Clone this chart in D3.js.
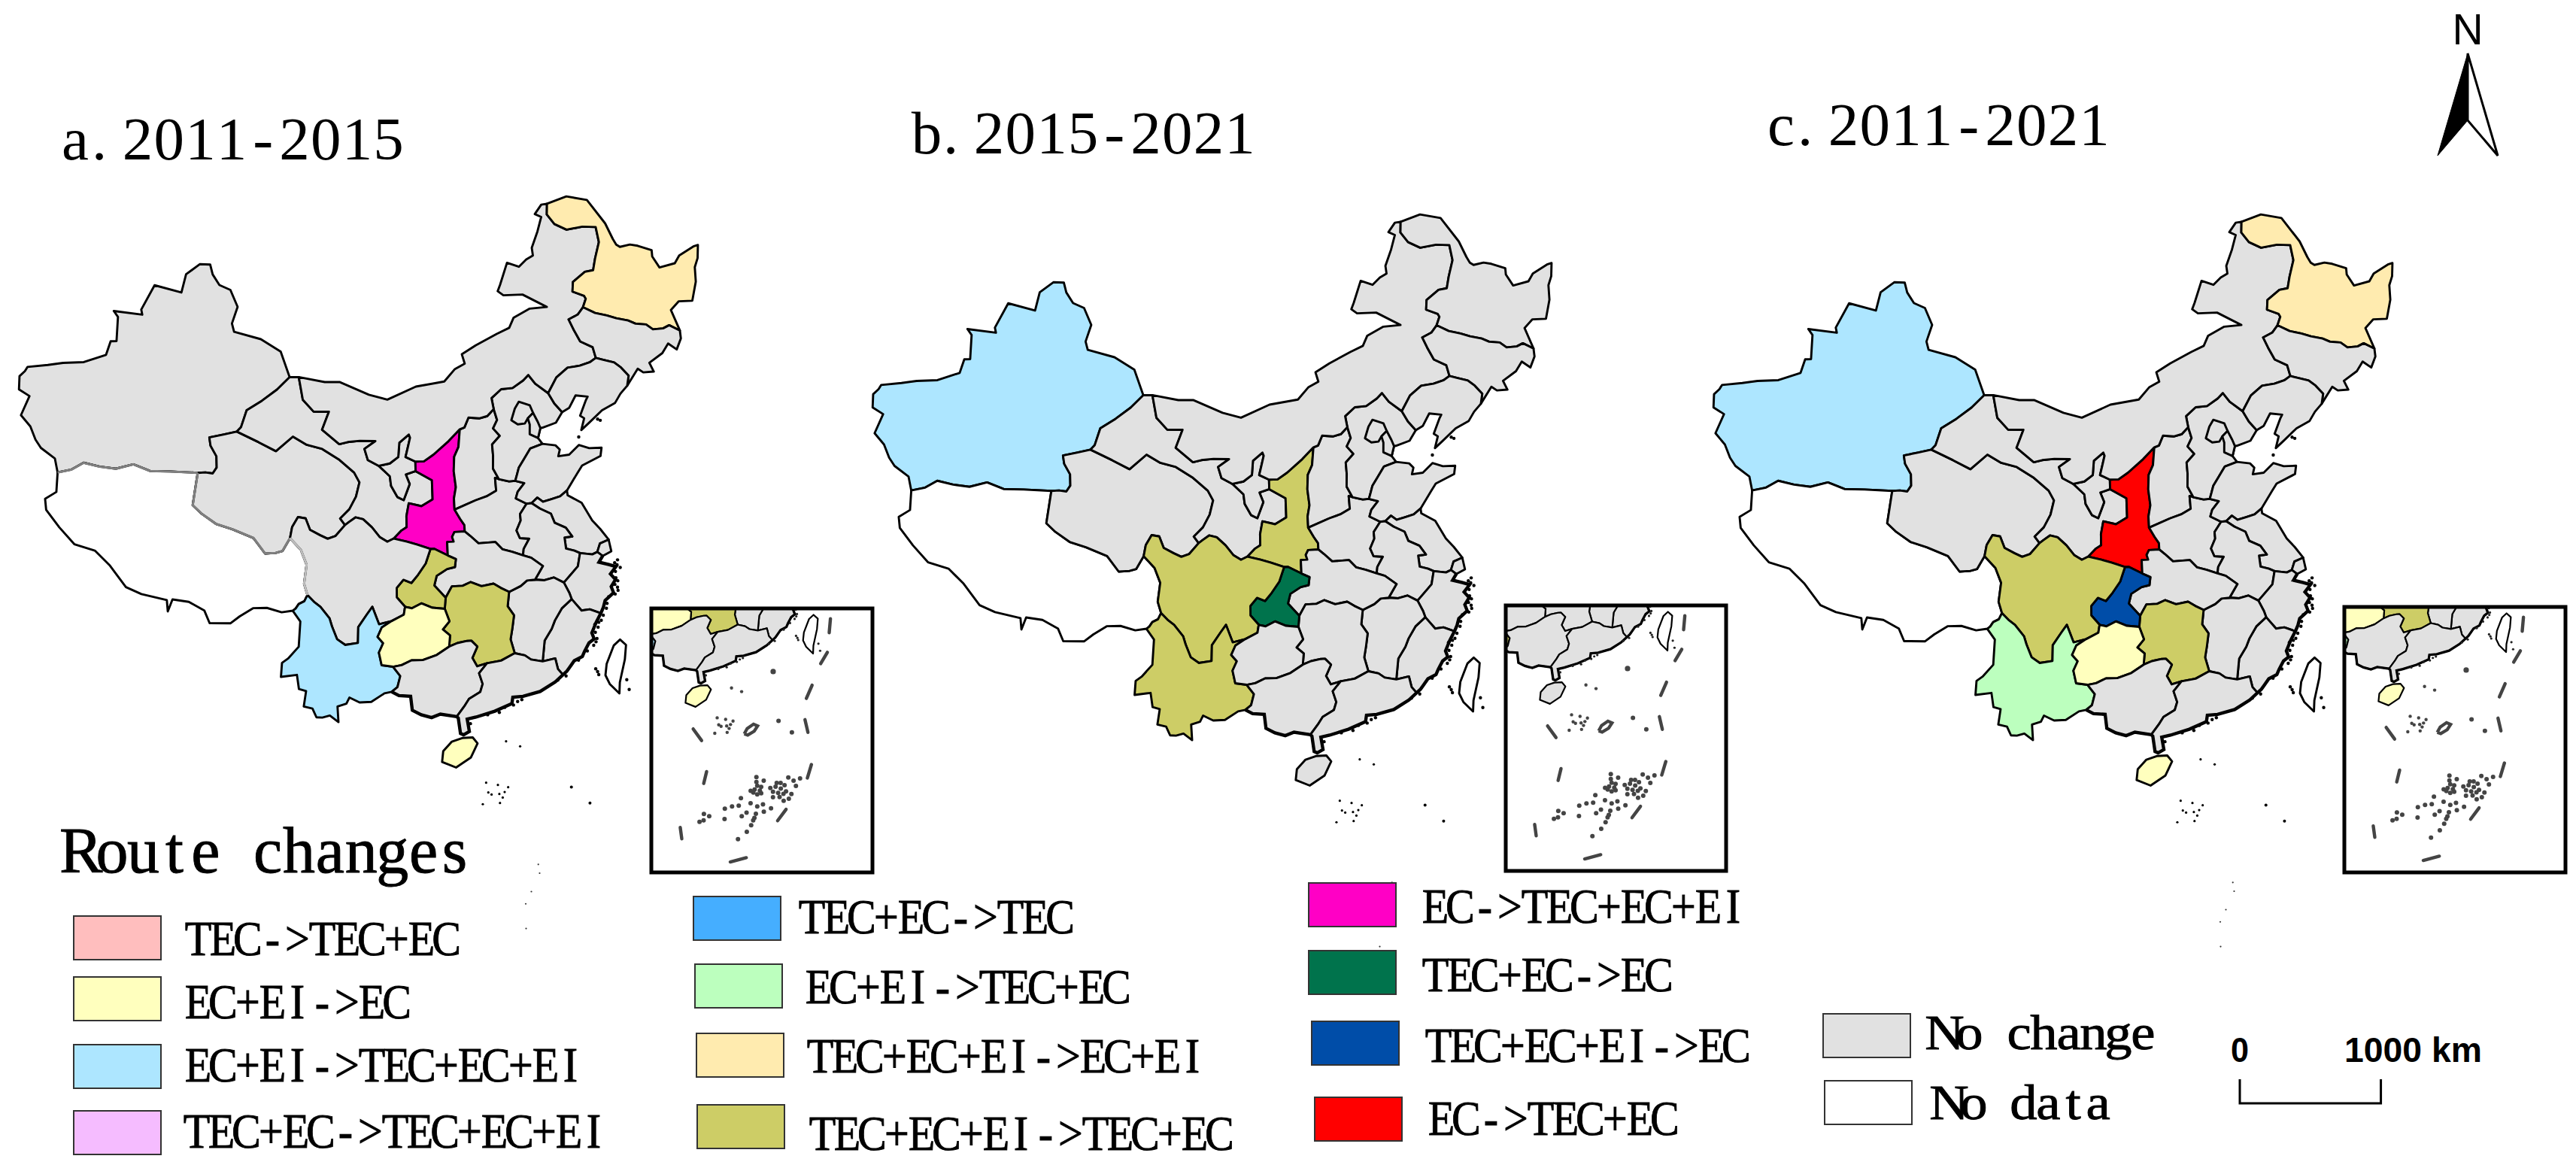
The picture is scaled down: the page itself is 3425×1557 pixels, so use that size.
<!DOCTYPE html>
<html>
<head>
<meta charset="utf-8">
<script src="https://cdnjs.cloudflare.com/ajax/libs/d3/7.8.5/d3.min.js"></script>
<style>
  html, body { margin: 0; padding: 0; background: #fff; }
  svg { display: block; }
  text { font-family: "Liberation Serif", serif; fill: #000; }
</style>
</head>
<body>
<div id="chart"></div>
<script>
// shared province borders as lon/lat, every ring below is stitched from these
const arcs = {
  xj_outer: [[78.8,34.3],[78.3,35.1],[77,35.5],[76.4,35.9],[75.7,36.6],[74.7,37.1],[74.9,38.4],[73.9,38.6],[73.6,39.4],[73.9,39.8],[74,40.1],[75.6,40.6],[76.8,41],[78.5,41.4],[80.2,42.2],[80.3,43.1],[80.8,43.2],[80.4,44.7],[79.9,45],[82.5,45.2],[82.3,45.5],[83,47.2],[85.6,47.1],[85.7,48.3],[86.8,49.1],[87.8,49.2],[88.2,48.6],[89,48],[90.1,47.8],[91,46.8],[90.7,45.7],[91,45.2],[93.5,44.95],[95.4,44.3],[96.4,42.75]],
  xj_gs: [[96.4,42.75],[95.4,41.9],[94.2,41.1],[93,40.4],[92.7,39.3],[92.4,39]],
  xj_qh: [[92.4,39],[91.3,38.7],[90.2,38.4],[90.4,37.9],[91,37.3],[91.15,36.6],[90.9,36.2],[90.3,36.2],[89.7,36.1]],
  xj_xz: [[89.7,36.1],[87.5,35.9],[85.9,35.7],[84.5,35.9],[83.2,35.4],[81.9,35.3],[80.6,35.3],[79.8,34.7],[78.8,34.3]],
  xz_south: [[98.1,28.15],[97.3,28],[96.2,28.2],[95.2,28.1],[94.3,27.5],[93.7,27],[92.2,26.85],[91.7,27.6],[90.5,28],[89.3,28],[89.1,27.2],[88.9,27.9],[87,28],[85.8,28.25],[84.3,29.4],[83,30.1],[81.4,30.2],[80,31],[78.7,31.85],[78.4,32.5],[79.1,33.1],[78.8,34.3]],
  xz_sc: [[97.5,32.7],[98.4,32],[98.9,31.1],[98.8,29.9],[99.1,29.2]],
  xz_yn: [[99.1,29.2],[98.9,28.8],[98.5,28.6],[98.3,28.3],[98.1,28.15]],
  xz_qh: [[89.7,36.1],[89.7,35.2],[89.7,34.05],[90.5,33.6],[91.7,33.1],[93,32.9],[94.7,32.5],[95.7,31.6],[96.5,31.7],[97,31.85],[97.5,32.7]],
  qh_gs: [[92.4,39],[94.3,38.5],[95.8,38.05],[97.1,39.05],[98.3,38.6],[99.6,38.4],[101,37.8],[102.3,37],[102.75,36.4],[102.5,35.5],[102,34.7],[101.3,34.1],[101.7,33.7]],
  qh_sc: [[101.7,33.7],[101,33],[100.4,32.8],[99.8,33],[99,33.3],[98.6,34],[98,34.05],[97.6,33.4],[97.5,32.7]],
  gs_mg: [[96.4,42.75],[97.2,42.8]],
  gs_nm: [[97.2,42.8],[97.7,41.4],[98.7,40.7],[100,40.75],[99.5,39.6],[101,38.75],[101.7,38.9],[102.7,39],[104,39],[103.1,38.5],[103.4,37.8],[104.3,37.45]],
  nx_nm: [[104.3,37.45],[105.2,37.6],[105.9,38],[106,38.9],[106.8,39.4],[106.9,39.2],[106.7,38.6],[106.5,38],[107.3,37.7]],
  nx_sn: [[107.3,37.7],[107.3,37.1]],
  nx_gs: [[107.3,37.1],[106.5,36.9],[106.8,36.3],[106.5,35.7],[106.3,35.3],[105.8,35.5],[105.3,36.2],[105.2,36.8],[104.3,37.45]],
  sn_nm: [[107.3,37.7],[108,37.7],[108.8,38.1],[110.1,38.9],[111.1,39.6]],
  sn_sx: [[111.1,39.6],[110.9,38.5],[110.5,37.9],[110.4,37],[110.5,36],[110.3,35.3],[110.3,34.6]],
  sn_hn: [[110.3,34.6],[110.7,34],[111,33.6],[111,33.2]],
  sn_hb: [[111,33.2],[110.2,33.2],[110,32.9],[110.1,32.6],[109.6,32.6],[109.6,31.75]],
  sn_cq: [[109.6,31.75],[108.6,32.2],[108.3,32.2]],
  sn_sc: [[108.3,32.2],[107.3,32.5],[106.5,32.7],[105.5,32.9]],
  sn_gs: [[107.3,37.1],[108.6,36.5],[108.6,35.9],[108.6,35.3],[107.7,34.9],[106.7,35.1],[106.5,34.3],[106.5,33.6],[106.1,33.4],[105.5,32.9]],
  gs_sc: [[105.5,32.9],[105,32.7],[104.4,33],[103.8,33.6],[103.1,34.1],[102.5,34.2],[102,33.9],[101.7,33.7]],
  sx_nm: [[111.1,39.6],[111.5,39.7],[111.9,40.3],[112.8,40.2],[113.5,40.3],[114.1,40.7]],
  sx_hb: [[114.1,40.7],[114.3,40],[113.9,39.5],[114.4,39],[113.7,38.5],[113.7,37.8],[113.6,37],[114,36.3]],
  sx_hn: [[114,36.3],[113.7,36.4],[113.7,35.6],[112.9,35.3],[112,35.1],[110.3,34.6]],
  hb_hn: [[114,36.3],[114.8,36.1],[115.3,36.1]],
  hb_nm: [[114.1,40.7],[114,41.4],[114.9,41.9],[115.9,41.9],[116.9,42.3],[117.4,42.6],[117.9,42],[118.9,41.3]],
  hb_ln: [[118.9,41.3],[119.3,40.6],[119.85,40]],
  hb_coast: [[119.85,40],[119.2,39.4],[118,39.2],[117.85,39.2],[117.55,38.6],[117.85,38.2]],
  hb_sd: [[115.3,36.1],[115.5,36.5],[115.7,36.9],[116.2,37.4],[116.8,38],[117.85,38.2]],
  sd_coast: [[117.85,38.2],[118.9,38],[119.2,37.7],[119,37.3],[119.9,37.3],[120.8,37.8],[121.6,37.5],[122.6,37.4],[122.4,36.9],[120.8,36.5],[120.3,36.05],[119.3,35.1]],
  sd_hn: [[115.3,36.1],[116,35.9],[115.4,35.4],[115.2,35],[116,34.6]],
  sd_ah: [[116,34.6],[116.4,34.6]],
  sd_js: [[116.4,34.6],[116.9,34.9],[117.3,34.6],[118,34.7],[118.7,34.8],[119.3,35.1]],
  js_coast: [[119.3,35.1],[119.3,34.8],[120.3,34.2],[120.9,33],[121.4,32.4],[121.9,31.65]],
  js_sh: [[120.9,31],[121.2,31.5],[121.9,31.65]],
  js_zj: [[119.6,31.1],[120.5,30.9],[120.9,31]],
  sh_zj: [[120.9,31],[121.25,30.7]],
  sh_coast: [[121.9,31.65],[121.95,30.9],[121.25,30.7]],
  ah_js: [[116.4,34.6],[117,34.2],[117.8,33.8],[118,33.2],[118.8,32.8],[119.2,32.2],[118.6,32.2],[118.6,31.5],[119.2,31.3],[119.6,31.1]],
  ah_zj: [[119.6,31.1],[119.3,30.3],[118.9,30],[118.1,29.4]],
  ah_jx: [[118.1,29.4],[117.4,29.8],[116.7,29.7],[116,29.8]],
  ah_hub: [[116,29.8],[116.7,30.6],[115.9,31.2],[115.3,31.4]],
  ah_hn: [[116,34.6],[115.4,34],[115.4,33.6],[115,33],[115.2,32.5],[115.9,32.4],[115.4,31.8],[115.3,31.4]],
  hub_hn: [[115.3,31.4],[114.5,31.7],[113.8,31.9],[113.3,32.4],[112,32.4],[111.4,32.9],[111,33.2]],
  hub_jx: [[116,29.8],[115.4,29.8],[114.9,29.5],[114,29.2]],
  hub_hun: [[114,29.2],[113.4,29.5],[112.9,29.8],[112,29.7],[111.2,30],[110.6,29.8],[109.8,29.8],[109.3,29.1]],
  hub_cq: [[109.3,29.1],[108.5,29.9],[108.7,30.5],[109.5,30.9],[110.1,31],[110.2,31.5],[109.6,31.75]],
  hun_cq: [[109.3,29.1],[109.2,28.4]],
  hun_gz: [[109.2,28.4],[109.5,27.6],[109,27.1],[109.5,26.7],[109.4,26]],
  hun_gx: [[109.4,26],[110,26.2],[110.7,26.3],[111,26.3],[111.4,25.9],[111,25.2],[111.3,24.65],[112,24.8]],
  hun_gd: [[112,24.8],[113,24.9],[114,25.3]],
  hun_jx: [[114,25.3],[113.8,26.2],[114,26.9],[114.2,27.7],[113.8,28.3],[114,29.2]],
  jx_gd: [[114,25.3],[114.7,25.1],[115.1,24.8],[115.9,24.6]],
  jx_fj: [[115.9,24.6],[116.2,25.9],[116.8,26.6],[117.1,27.1],[117.7,27.8],[118.5,28.3]],
  jx_zj: [[118.5,28.3],[118.4,28.7],[118.1,29.4]],
  fj_zj: [[118.5,28.3],[119.1,27.5],[119.7,27.5],[120.45,27.15]],
  zj_coast: [[121.25,30.7],[120.9,30.35],[121.6,30.1],[122.1,29.9],[121.6,29.5],[121.9,29.1],[121.5,28.7],[121.6,28.3],[120.9,27.9],[120.7,27.5],[120.45,27.15]],
  fj_coast: [[120.45,27.15],[120,26.6],[119.8,26.3],[119.6,26],[119.7,25.6],[119.3,25.4],[118.9,24.9],[118.7,24.6],[118.1,24.4],[117.7,24],[117.5,23.8],[117.2,23.6]],
  fj_gd: [[115.9,24.6],[116.8,24.7],[116.9,24],[117.2,23.6]],
  gd_coast: [[117.2,23.6],[116.6,23.2],[115.5,22.7],[114.3,22.5],[113.6,22.5],[113.5,22.1],[112.3,21.7],[111,21.4],[110.4,21.3],[110.5,20.5],[110.1,20.3],[109.9,20.4],[109.8,21.4],[109.7,21.5]],
  gd_gx: [[112,24.8],[111.4,24.2],[111.6,23.5],[111.4,23],[110.6,22.6],[110.3,22.2],[109.7,21.5]],
  gx_coast: [[109.7,21.5],[108.6,21.7],[108,21.5],[107.3,21.7],[106.7,22],[106.6,22.9],[105.8,22.95],[105.3,23.2]],
  gx_gz: [[109.4,26],[108.5,25.5],[107.5,25.2],[106.7,25.2],[106,24.9],[105.4,24.8]],
  yn_gx: [[105.4,24.8],[105.9,24.2],[105.7,23.5],[105.3,23.2]],
  yn_outer: [[98.1,28.15],[98.7,27.5],[98.7,25.9],[98,25.1],[97.6,24.8],[97.6,23.9],[98.7,24.1],[98.9,23.2],[99.4,23.1],[99.3,22.1],[99.9,22],[100.2,21.45],[100.6,21.45],[101.1,21.6],[101.7,21.2],[101.6,22.2],[102.2,22.4],[102.4,22.8],[103.1,22.5],[103.9,22.55],[104.8,23.1],[105.3,23.2]],
  gz_yn: [[105.4,24.8],[104.6,24.9],[104.4,25.7],[104.7,26.3],[104.3,26.7],[104.6,27.3],[105.3,27.7]],
  gz_sc: [[105.3,27.7],[106.2,28.1],[106.3,28.6]],
  gz_cq: [[106.3,28.6],[106.8,28.5],[107.5,28.8],[108.3,28.5],[109.2,28.4]],
  sc_cq: [[106.3,28.6],[105.7,29.2],[105.7,29.8],[106.2,30.3],[106.8,30.1],[107.3,30.6],[107.9,31.3],[108.3,32.2]],
  sc_yn: [[99.1,29.2],[99.6,28.8],[100.1,28.5],[100.8,27.8],[101,27.3],[101.4,26.5],[102,26.15],[102.9,26.3],[102.9,27.3],[103.5,28.1],[103.9,28.6],[104.4,27.5],[105.3,27.7]],
  nm_n: [[97.2,42.8],[99.5,42.6],[100.8,42.65],[103.4,41.9],[105,41.6],[107.5,42.4],[110,42.65],[111,43.4],[111.9,43.7],[111.7,44.3],[113,44.8],[115,45.4],[116.2,45.7],[116.7,46.3],[118.3,46.75],[119.9,46.7],[117.8,47.7],[116,47.8],[115.5,48.1],[115.8,48.5],[116.7,49.85],[117.8,49.5],[118.6,49.9],[119.3,50.1],[119.3,50.6],[120.1,51.6],[120.7,52.5],[120.1,52.75],[120.9,53.3],[121.5,53.3]],
  nm_hlj: [[123.2,46.3],[123.6,46.8],[123.5,47],[122.5,47.4],[122.7,48],[124,48.5],[124.8,48.5],[125.2,49.2],[125.9,50.2],[125.9,51.2],[124.6,51.4],[123,51.4],[121.9,51.9],[121.3,52.6],[121.5,53.3]],
  nm_jl: [[123.5,43],[123.4,43.7],[122.4,44.2],[122,45],[121.7,45.7],[122.6,45.9],[123.2,46.3]],
  ln_nm: [[118.9,41.3],[119.8,42.2],[120.9,42.7],[122,42.7],[122.9,42.8],[123.5,43]],
  ln_jl: [[123.5,43],[124.1,42.8],[125,42.5],[125.5,42.1],[126,41.5],[125.7,40.9]],
  ln_coast: [[125.7,40.9],[125,40.5],[124.4,40],[123.2,39.7],[122,39.1],[121.2,38.7],[121.6,39.4],[121.3,39.6],[122,40.5],[122.2,40.7],[121.2,40.9],[120.5,40.2],[119.85,40]],
  hlj_outer: [[121.5,53.3],[123.6,53.55],[125.6,53.05],[126.9,51.3],[127.3,50.2],[127.5,49.8],[127.8,49.6],[128.8,49.6],[129.5,49.4],[130.7,48.9],[130.6,48.5],[131,47.7],[132.5,47.7],[133.1,48.1],[134.7,48.4],[135.1,48.4],[134.7,47.6],[134.2,47.1],[133.9,46.2],[133.1,45.1],[131.9,45.3],[131,44.9],[131.3,43.5]],
  jl_hlj: [[123.2,46.3],[124.2,45.8],[125.2,45.5],[126,45.2],[127,44.9],[127.6,44.6],[128.5,44.4],[129,44],[129.9,43.9],[130.5,44],[131.3,43.5]],
  jl_outer: [[131.3,43.5],[131.2,43],[130.6,42.4],[130,42.9],[129.3,42.4],[128,42],[128.2,41.4],[127.3,41.5],[126.9,41.8],[125.7,40.9]],
  bj: [[115.5,39.9],[115.9,40.6],[116.3,41],[117.2,40.7],[117.4,40.2],[116.9,39.9],[116.6,39.6],[116,39.6],[115.5,39.9]],
  tj: [[117.4,40.2],[117.7,39.6],[117.85,39.2],[117.55,38.6],[116.9,38.9],[117,39.5],[116.9,39.9],[117.4,40.2]],
  hainan: [[108.7,19.3],[108.6,18.6],[109.5,18.2],[110.5,18.8],[111,19.7],[110.7,20.1],[110,20.1],[109.3,19.9],[108.7,19.3]],
  taiwan: [[121.5,25.3],[121.85,24.9],[121.6,24],[121,22.6],[120.85,21.9],[120.3,22.6],[120.1,23.2],[120.3,23.9],[121,25],[121.5,25.3]]
};

const provinces = ["Xinjiang","Xizang","Qinghai","Gansu","Ningxia","Shaanxi","Shanxi","Henan","Hebei","Beijing","Tianjin","Shandong","Jiangsu","Shanghai","Anhui","Zhejiang","Fujian","Jiangxi","Hubei","Hunan","Chongqing","Sichuan","Yunnan","Guizhou","Guangxi","Guangdong","InnerMongolia","Heilongjiang","Jilin","Liaoning","Hainan","Taiwan"];
const provinceArcs = [
  ["xj_outer","xj_gs","xj_qh","xj_xz"],
  ["xj_xz","-xz_south","-xz_yn","-xz_sc","-xz_qh"],
  ["qh_gs","qh_sc","-xz_qh","-xj_qh"],
  ["gs_mg","gs_nm","-nx_gs","sn_gs","gs_sc","-qh_gs","-xj_gs"],
  ["nx_nm","nx_sn","nx_gs"],
  ["sn_nm","sn_sx","sn_hn","sn_hb","sn_cq","sn_sc","-sn_gs","-nx_sn"],
  ["sx_nm","sx_hb","sx_hn","-sn_sx"],
  ["-sx_hn","hb_hn","sd_hn","ah_hn","hub_hn","-sn_hn"],
  ["hb_nm","hb_ln","hb_coast","-hb_sd","-hb_hn","-sx_hb"],
  ["bj"],
  ["tj"],
  ["sd_coast","-sd_js","-sd_ah","-sd_hn","hb_sd"],
  ["js_coast","-js_sh","-js_zj","-ah_js","sd_js"],
  ["sh_coast","-sh_zj","js_sh"],
  ["ah_js","ah_zj","ah_jx","ah_hub","-ah_hn","sd_ah"],
  ["js_zj","sh_zj","zj_coast","-fj_zj","jx_zj","-ah_zj"],
  ["fj_zj","fj_coast","-fj_gd","jx_fj"],
  ["ah_jx","hub_jx","-hun_jx","jx_gd","jx_fj","jx_zj"],
  ["ah_hub","hub_hn","sn_hb","-hub_cq","-hub_hun","-hub_jx"],
  ["hub_hun","hun_cq","hun_gz","hun_gx","hun_gd","hun_jx"],
  ["sn_cq","-sc_cq","gz_cq","-hun_cq","hub_cq"],
  ["sn_sc","gs_sc","qh_sc","xz_sc","sc_yn","gz_sc","sc_cq"],
  ["-sc_yn","xz_yn","yn_outer","-yn_gx","gz_yn"],
  ["gz_sc","gz_cq","hun_gz","gx_gz","gz_yn"],
  ["hun_gx","gd_gx","gx_coast","-yn_gx","-gx_gz"],
  ["hun_gd","jx_gd","fj_gd","gd_coast","-gd_gx"],
  ["nm_n","-nm_hlj","-nm_jl","-ln_nm","-hb_nm","-sx_nm","-sn_nm","-nx_nm","-gs_nm"],
  ["hlj_outer","-jl_hlj","nm_hlj"],
  ["jl_hlj","jl_outer","-ln_jl","nm_jl"],
  ["ln_nm","ln_jl","ln_coast","-hb_ln"],
  ["hainan"],
  ["taiwan"]
];
const roughCoasts = ["zj_coast","fj_coast","gd_coast","gx_coast"];

// island specks and the South China Sea dashes, lon/lat
const coastSpecks = [[122.2,30],[122.3,30.3],[122.4,29.8],[122.05,30.15],[122,29.6],[121.95,29.2],[122.05,29],[121.95,28.6],[121.95,28.4],[121.8,28.8],[121.7,28.2],[121.2,28.1],[121,27.7],[120.9,27.4],[120.6,27],[120.4,26.7],[120.2,26.6],[120.1,26.3],[119.9,26.5],[119.9,25.6],[119.85,26],[119.8,25.4],[119.6,25.2],[119.1,24.9],[118.4,24.4],[117.4,23.5],[116.8,23.3],[114.2,22.3],[113.9,22.2],[113.6,22],[113,21.9],[112.6,21.6],[111.8,21.5],[110.6,21],[120.9,38.3],[122.7,39.2],[122.9,39.1],[119.6,23.5],[119.5,23.7],[119.65,23.3],[121.55,22.05],[121.5,22.7]];
const dongsha = [[116.9,20.8]];
const xisha = [[111.4,17.1],[112.15,16.9],[111.5,16.45],[111.7,16.3],[112.2,16.3],[112.55,16.4],[112.4,16.05],[111.1,15.7],[112.2,15.7],[112.8,16.7],[112.9,19.7],[113.8,19.3]];
const otherShoals = [[116.85,16.3],[117.9,15.1]];
const mainNansha = [[114.27,11.4],[114.3,10.8],[113.7,9.6],[113.3,8.8],[113.2,7.1]];
const nansha = [[114.41,11.34],[114.37,10.88],[115,10.93],[114.41,10.52],[114.73,10.37],[114.16,10.19],[114.59,10.03],[113.82,10.1],[114.34,9.7],[114.68,9.78],[114.03,9.92],[116.07,10.59],[116.4,10.56],[116.71,10.3],[115.49,10.18],[115.94,10.25],[116.36,10.02],[115.68,9.81],[116.1,9.65],[116.77,9.7],[117.19,9.38],[116.53,9.49],[115.63,9.29],[116.18,9.24],[116.93,8.98],[116.48,8.83],[117.1,10.97],[117.51,10.62],[118.08,10.75],[117.65,10.09],[112.95,9.48],[111.55,8.6],[112.16,8.77],[112.72,8.79],[113.72,8.93],[114.25,8.57],[114.74,8.71],[113.32,8.07],[114.08,7.88],[114.75,8.01],[115.37,8.25],[113.93,7.5],[113.81,7.27],[112.9,7.76],[111.47,7.61],[113.61,6.82],[113.21,6.22],[112.45,5.58],[110.22,7.97],[109.79,8.2],[109.4,7.46],[109.74,7.59]];
const zhongsha = [[113.7,15.45],[114,15.9],[114.6,16.25],[114.95,16.05],[114.6,15.6],[114,15.3],[113.7,15.45]];
const nineDash = [
  [[109.2,16.2],[109.9,15.1]], [[110.2,12.2],[109.9,11.1]], [[107.8,7],[107.9,5.9]],
  [[111.7,3.4],[113,3.7]], [[115.8,7],[116.6,8]], [[118.7,10.7],[119.2,11.9]],
  [[119.2,16.1],[119.3,14.9]], [[119.6,18],[120.3,19.1]], [[121.4,20.9],[122.2,21.8]], [[123.06,24.7],[122.7,23.5]]
];

const routeChanges = ["TEC->TEC+EC","EC+EI->EC","EC+EI->TEC+EC+EI","TEC+EC->TEC+EC+EI","TEC+EC->TEC","EC+EI->TEC+EC","TEC+EC+EI->EC+EI","TEC+EC+EI->TEC+EC","EC->TEC+EC+EI","TEC+EC->EC","TEC+EC+EI->EC","EC->TEC+EC"];
const routeColors = ["#ffbebe","#ffffbe","#ade6ff","#f5bcff","#45aeff","#bcffbe","#ffebaf","#cdcd66","#ff00c5","#00734c","#004da8","#ff0000"];
const baseLabels = ["No change","No data"];
const baseColors = ["#e1e1e1","#ffffff"];

const panelTitles = ["a. 2011-2015","b. 2015-2021","c. 2011-2021"];
const noData = ["Xizang","Taiwan"];
const changesA = [["Heilongjiang","TEC+EC+EI->EC+EI"],["Shaanxi","EC->TEC+EC+EI"],["Chongqing","TEC+EC+EI->TEC+EC"],["Hunan","TEC+EC+EI->TEC+EC"],["Guizhou","EC+EI->EC"],["Hainan","EC+EI->EC"],["Yunnan","EC+EI->TEC+EC+EI"]];
const changesB = [["Xinjiang","EC+EI->TEC+EC+EI"],["Sichuan","TEC+EC+EI->TEC+EC"],["Yunnan","TEC+EC+EI->TEC+EC"],["Shaanxi","TEC+EC+EI->TEC+EC"],["Chongqing","TEC+EC->EC"]];
const changesC = [["Xinjiang","EC+EI->TEC+EC+EI"],["Heilongjiang","TEC+EC+EI->EC+EI"],["Shaanxi","EC->TEC+EC"],["Sichuan","TEC+EC+EI->TEC+EC"],["Hunan","TEC+EC+EI->TEC+EC"],["Chongqing","TEC+EC+EI->EC"],["Guizhou","EC+EI->EC"],["Yunnan","EC+EI->TEC+EC"],["Hainan","EC+EI->EC"]];

const scaleKm = [0, 1000];

const width = 3425, height = 1557;
const svg = d3.select("#chart").append("svg").attr("width", width).attr("height", height);

const routeColor = d3.scaleOrdinal().domain(routeChanges).range(routeColors);

function stitch(refs) {
  let ring = [];
  refs.forEach(r => {
    const pts = r[0] === "-" ? arcs[r.slice(1)].slice().reverse() : arcs[r];
    ring = ring.concat(ring.length ? pts.slice(1) : pts);
  });
  if (ring[0][0] !== ring[ring.length - 1][0] || ring[0][1] !== ring[ring.length - 1][1]) ring.push(ring[0]);
  const f = { type: "Feature", properties: {}, geometry: { type: "Polygon", coordinates: [ring] } };
  if (d3.geoArea(f) > 2 * Math.PI) f.geometry.coordinates = [ring.slice().reverse()];
  return f;
}
const features = provinces.map((name, i) => {
  const f = stitch(provinceArcs[i]);
  f.properties.name = name;
  return f;
});

function albers(scale, tx, ty) {
  return d3.geoConicEqualArea().parallels([25, 47]).rotate([-105, 0]).center([0, 0]).scale(scale).translate([tx, ty]);
}

function drawProvinces(g, path, changes, strokeW) {
  const lookup = new Map(changes);
  g.selectAll("path.prov").data(features).enter().append("path")
    .attr("class", "prov")
    .attr("d", path)
    .attr("fill", d => noData.includes(d.properties.name) ? baseColors[1]
      : lookup.has(d.properties.name) ? routeColor(lookup.get(d.properties.name)) : baseColors[0])
    .attr("stroke", "#000")
    .attr("stroke-width", strokeW)
    .attr("stroke-linejoin", "round");
  roughCoasts.forEach(a => {
    g.append("path")
      .attr("d", path({ type: "LineString", coordinates: arcs[a] }))
      .attr("fill", "none").attr("stroke", "#000").attr("stroke-width", strokeW * 1.5);
  });
}

function dots(g, projection, pts, r, fill) {
  g.selectAll(null).data(pts).enter().append("circle")
    .attr("cx", d => projection(d)[0])
    .attr("cy", d => projection(d)[1])
    .attr("r", r)
    .attr("fill", fill);
}

// the source type is a half-width serif, so every glyph gets its own cell
function cellText(x, y, str, cell, size, squeeze) {
  const xs = Array.from(str, (c, i) => ((i + 0.5) * cell) / squeeze);
  svg.append("text")
    .attr("transform", `translate(${x},${y}) scale(${squeeze},1)`)
    .attr("x", xs.join(" "))
    .attr("text-anchor", "middle")
    .attr("font-size", size)
    .attr("stroke", "#000").attr("stroke-width", 0.9)
    .text(str);
}

function titleText(x, y, str) {
  const pitch = 41.7;
  const xs = Array.from(str, (c, i) => i === 0 ? 0 : i === 1 ? 32 : i === 2 ? 58 : 83 + (i - 3) * pitch);
  svg.append("text")
    .attr("x", xs.map(v => v + x).join(" "))
    .attr("y", y)
    .attr("text-anchor", "middle")
    .attr("font-size", 81)
    .text(str);
}

// panel frames
const panels = [
  { title: panelTitles[0], changes: changesA, tx: 515, ty: 1375, titleX: 100, titleY: 212, box: [866, 809, 294, 351] },
  { title: panelTitles[1], changes: changesB, tx: 1650, ty: 1399, titleX: 1232, titleY: 204, box: [2002, 805, 293, 353] },
  { title: panelTitles[2], changes: changesC, tx: 2768, ty: 1399, titleX: 2368, titleY: 193, box: [3117, 807, 294, 353] }
];

panels.forEach((p, i) => {
  const g = svg.append("g").attr("class", "panel");
  const main = albers(1195, p.tx, p.ty);
  const path = d3.geoPath(main);
  drawProvinces(g, path, p.changes, 2.9);

  // panel a has the Xizang edges washed out
  if (i === 0) {
    [["xj_xz", "#808080"], ["xz_qh", "#808080"], ["xz_sc", "#bdbdbd"]].forEach(([a, col]) => {
      g.append("path")
        .attr("d", path({ type: "LineString", coordinates: arcs[a] }))
        .attr("fill", "none").attr("stroke", col).attr("stroke-width", 3);
    });
  }

  dots(g, main, coastSpecks, 2.2, "#000");
  dots(g, main, otherShoals, 2, "#000");
  dots(g, main, xisha, 1.6, "#000");
  dots(g, main, mainNansha, 1.1, "#333");

  // South China Sea inset
  const [bx, by, bw, bh] = p.box;
  const clipId = "inset-" + i;
  svg.append("clipPath").attr("id", clipId).append("rect").attr("x", bx).attr("y", by).attr("width", bw).attr("height", bh);
  const ins = svg.append("g").attr("clip-path", `url(#${clipId})`);
  ins.append("rect").attr("x", bx).attr("y", by).attr("width", bw).attr("height", bh).attr("fill", "#fff");
  const small = albers(860, bx - 7, by + 386);
  const smallPath = d3.geoPath(small);
  drawProvinces(ins, smallPath, p.changes, 2.2);
  dots(ins, small, coastSpecks, 1.6, "#222");
  dots(ins, small, dongsha, 3.6, "#444");
  dots(ins, small, otherShoals, 3, "#444");
  dots(ins, small, xisha, 2.2, "#444");
  dots(ins, small, nansha, 3, "#444");
  ins.append("path")
    .attr("d", smallPath({ type: "LineString", coordinates: zhongsha }))
    .attr("fill", "none").attr("stroke", "#444").attr("stroke-width", 4.2);
  ins.selectAll(null).data(nineDash).enter().append("path")
    .attr("d", d => smallPath({ type: "LineString", coordinates: d }))
    .attr("fill", "none").attr("stroke", "#444").attr("stroke-width", 4.4).attr("stroke-linecap", "round");
  svg.append("rect").attr("x", bx).attr("y", by).attr("width", bw).attr("height", bh)
    .attr("fill", "none").attr("stroke", "#000").attr("stroke-width", 5);

  titleText(p.titleX, p.titleY, p.title);
});

// legend
cellText(87, 1160, "Route changes", 41.4, 86, 1.0);

const legendSlots = [
  [98,1218,247,1270],[98,1299,247,1354],[98,1389,247,1438],[98,1477,245,1526],
  [922,1192,1063,1241],[924,1282,1072,1334],[926,1374,1074,1426],[927,1469,1077,1529],
  [1740,1174,1892,1227],[1740,1264,1892,1318],[1744,1358,1896,1412],[1748,1459,1900,1509]
];
const baseSlots = [[2424,1348,2569,1395],[2426,1437,2575,1488]];
const swW = 116, swH = 58;

function legendRow(label, color, slot, squeeze) {
  svg.append("rect").attr("x", slot[0]).attr("y", slot[1]).attr("width", swW).attr("height", swH)
    .attr("fill", color).attr("stroke", "#333").attr("stroke-width", 2);
  cellText(slot[2], slot[3], label, 33, 66, squeeze);
}
routeChanges.forEach((label, i) => legendRow(label, routeColors[i], legendSlots[i], 0.88));
baseLabels.forEach((label, i) => legendRow(label, baseColors[i], baseSlots[i], 1.1));

// scale bar, drawn with the same km per pixel as the map
const kmScale = d3.scaleLinear().domain(scaleKm).range([2978, 2978 + 1195 / 6371 * scaleKm[1]]);
svg.append("path")
  .attr("d", d3.line()([[kmScale(0), 1435], [kmScale(0), 1467], [kmScale(1000), 1467], [kmScale(1000), 1435]]))
  .attr("fill", "none").attr("stroke", "#000").attr("stroke-width", 3);
svg.append("text").attr("x", kmScale(0)).attr("y", 1412).attr("text-anchor", "middle")
  .attr("font-size", 46).attr("font-weight", "bold").attr("textLength", 24).attr("lengthAdjust", "spacingAndGlyphs")
  .style("font-family", "'Liberation Sans', sans-serif").text(scaleKm[0]);
svg.append("text").attr("x", 3117).attr("y", 1412)
  .attr("font-size", 46).attr("font-weight", "bold").style("font-family", "'Liberation Sans', sans-serif")
  .attr("textLength", 183).attr("lengthAdjust", "spacingAndGlyphs").text(scaleKm[1] + " km");

// north arrow
svg.append("text").attr("x", 3281).attr("y", 59).attr("text-anchor", "middle")
  .attr("font-size", 57).style("font-family", "'Liberation Sans', sans-serif").text("N");
svg.append("path").attr("d", "M3281,71L3241,207L3281,160Z").attr("fill", "#000").attr("stroke", "#000").attr("stroke-width", 1);
svg.append("path").attr("d", "M3281,71L3321,207L3281,160Z").attr("fill", "#fff").attr("stroke", "#000").attr("stroke-width", 3);
</script>
</body>
</html>
